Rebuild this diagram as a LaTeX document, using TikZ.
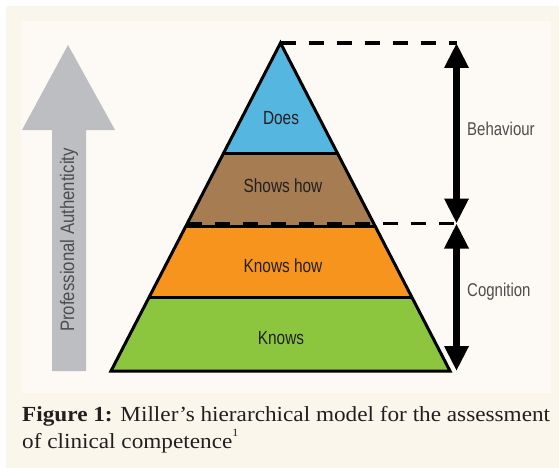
\documentclass[tikz,border=0pt]{standalone}
\usepackage{fontspec}
\setmainfont{Liberation Serif}
\newfontfamily\captionfont[FakeStretch=1.08]{Liberation Serif}
\newfontfamily\labelfont[FakeStretch=0.81]{Liberation Sans}
\newfontfamily\sidefont[FakeStretch=0.86]{Liberation Sans}
\usetikzlibrary{arrows.meta}
\definecolor{outerbg}{HTML}{FAF6EB}
\definecolor{innerbg}{HTML}{FDFAF5}
\definecolor{doesblue}{HTML}{55B6E0}
\definecolor{showsbrown}{HTML}{A67C52}
\definecolor{knowshoworange}{HTML}{F7941E}
\definecolor{knowsgreen}{HTML}{8CC63F}
\definecolor{arrowgray}{HTML}{BDBEC2}
\definecolor{inktext}{HTML}{231F20}
\definecolor{sidetext}{HTML}{4D4D4D}
\begin{document}
\begin{tikzpicture}[x=1pt,y=-1pt,
  layerlabel/.style={font=\labelfont\fontsize{19}{20}\selectfont, text=inktext, inner sep=0pt},
  sidelabel/.style={font=\labelfont\fontsize{18.5}{20}\selectfont, text=sidetext, inner sep=0pt, anchor=west},
  edge/.style={line width=3pt, line join=miter},
  guide/.style={line width=3.3pt, dash pattern=on 15pt off 13pt},
  span/.style={line width=7pt, {Triangle[length=25pt,width=23pt]}-{Triangle[length=25pt,width=23pt]}},
  caption/.style={font=\captionfont\fontsize{21.5}{27}\selectfont, text=inktext, inner sep=0pt, anchor=base west}]
\useasboundingbox (0,0) rectangle (559,468);
% panels
\fill[white] (0,0) rectangle (559,468);
\fill[outerbg] (6,6) rectangle (559,468);
\fill[innerbg] (21,21) rectangle (551,393);

% upward arrow on the left
\fill[arrowgray] (68,45) -- (115,130) -- (86,130) -- (86,371) -- (52,371) -- (52,130) -- (22,130) -- cycle;
\node[font=\sidefont\fontsize{19.5}{20}\selectfont, text=sidetext, rotate=90, inner sep=0pt] (auth) at (69,240) {Professional Authenticity};

% pyramid corners
\coordinate (apex) at (280.5,43);
\coordinate (l1) at (223.65,153);  \coordinate (r1) at (337.35,153);
\coordinate (l2) at (185.9,226);   \coordinate (r2) at (375.1,226);
\coordinate (l3) at (149.2,297);   \coordinate (r3) at (411.8,297);
\coordinate (bl) at (111,371);     \coordinate (br) at (450,371);
\coordinate (dl) at (187.2,223.5); \coordinate (dr) at (373.8,223.5);

% layers
\fill[doesblue] (apex) -- (r1) -- (l1) -- cycle;
\fill[showsbrown] (l1) -- (r1) -- (r2) -- (l2) -- cycle;
\fill[knowshoworange] (l2) -- (r2) -- (r3) -- (l3) -- cycle;
\fill[knowsgreen] (l3) -- (r3) -- (br) -- (bl) -- cycle;

% outlines
\draw[edge] (l1) -- (r1);
\draw[edge] (l2) -- (r2);
\draw[edge] (l3) -- (r3);
\draw[edge] (apex) -- (br) -- (bl) -- cycle;

% layer labels
\node[layerlabel] (does) at (281,118) {Does};
\node[layerlabel] (shows) at (283,186) {Shows how};
\node[layerlabel] (knowshow) at (283,266) {Knows how};
\node[layerlabel] (knows) at (281,338) {Knows};

% guides and spans on the right
\coordinate (btop) at (456.5,43);
\coordinate (bmid) at (456.5,223.5);
\coordinate (bbot) at (456.5,371);
\draw[guide] (apex) -- (btop);
\draw[guide] (dl) -- (bmid);
\draw[span] (bmid) -- (btop);
\draw[span] (bbot) -- (bmid);
\node[sidelabel] (behaviour) at (467,129) {Behaviour};
\node[sidelabel] (cognition) at (467,292) {Cognition};

% caption
\node[caption] (cap1) at (22,421) {\textbf{Figure 1:} Miller’s hierarchical model for the assessment};
\node[caption] (cap2) at (22,448) {of clinical competence\raisebox{0.55em}{\fontsize{11}{11}\selectfont 1}};
\end{tikzpicture}
\end{document}
